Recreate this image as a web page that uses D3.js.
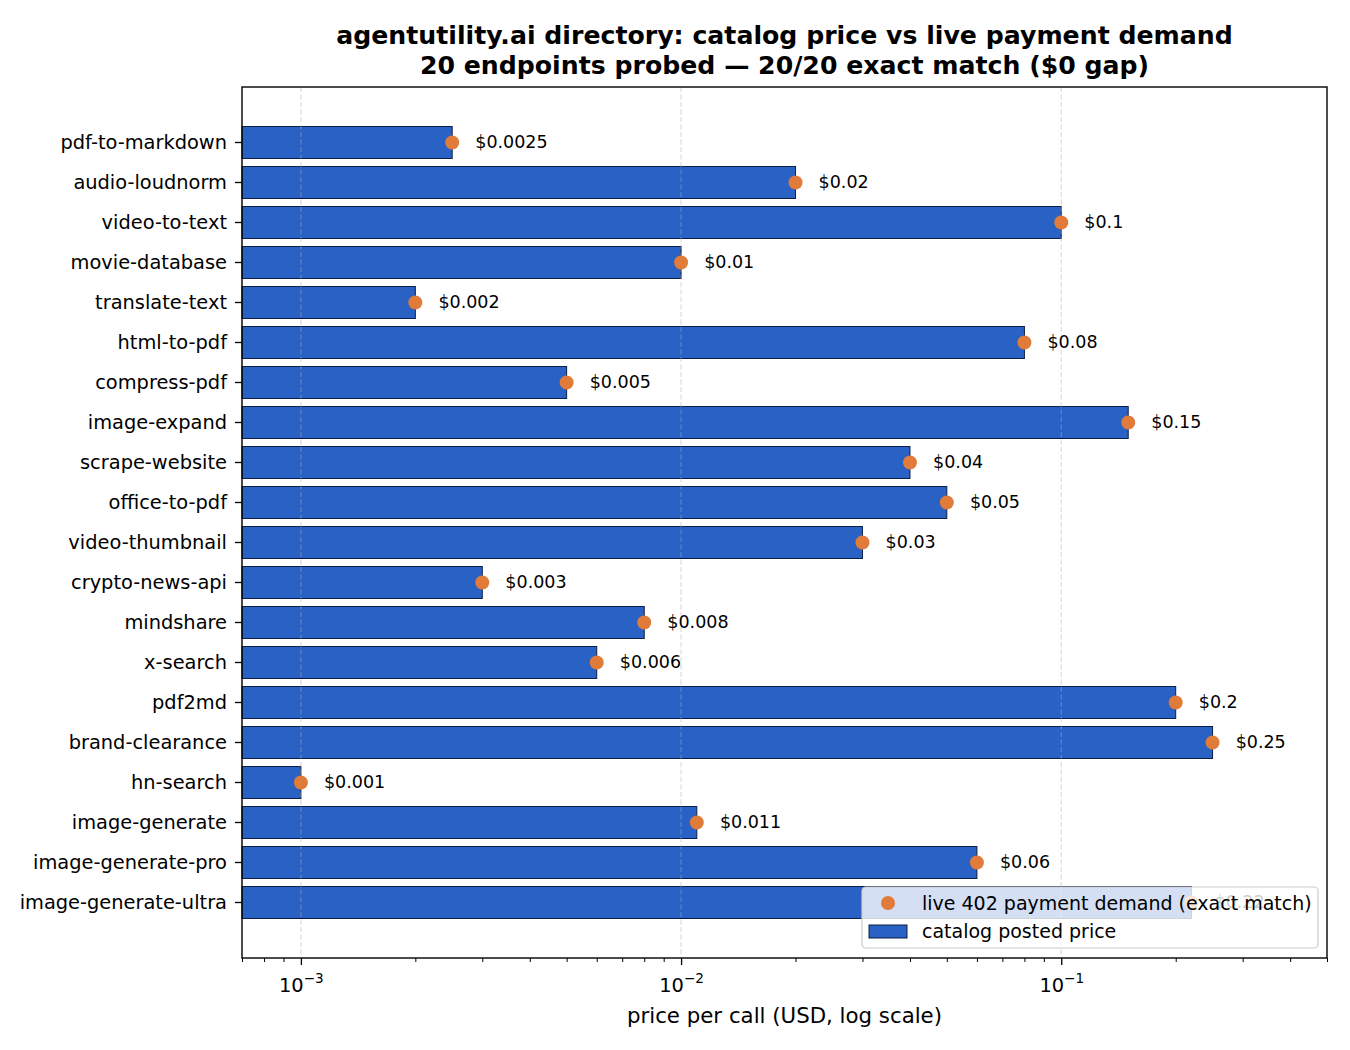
<!DOCTYPE html>
<html>
<head>
<meta charset="utf-8">
<script src="https://cdn.jsdelivr.net/npm/d3@7"></script>
<style>
  body { margin: 0; background: #fff; }
  text { font-family: "DejaVu Sans", sans-serif; fill: #000; }
</style>
</head>
<body>
<div id="chart"></div>
<script>
const endpoints = [
  "pdf-to-markdown", "audio-loudnorm", "video-to-text", "movie-database", "translate-text",
  "html-to-pdf", "compress-pdf", "image-expand", "scrape-website", "office-to-pdf",
  "video-thumbnail", "crypto-news-api", "mindshare", "x-search", "pdf2md",
  "brand-clearance", "hn-search", "image-generate", "image-generate-pro", "image-generate-ultra"
];
const catalogPrice = [
  0.0025, 0.02, 0.1, 0.01, 0.002,
  0.08, 0.005, 0.15, 0.04, 0.05,
  0.03, 0.003, 0.008, 0.006, 0.2,
  0.25, 0.001, 0.011, 0.06, 0.22
];
const liveDemand = [
  0.0025, 0.02, 0.1, 0.01, 0.002,
  0.08, 0.005, 0.15, 0.04, 0.05,
  0.03, 0.003, 0.008, 0.006, 0.2,
  0.25, 0.001, 0.011, 0.06, 0.22
];
const xDomain = [0.0007, 0.5];
const majorTicks = [0.001, 0.01, 0.1];
const majorTickExp = ["3", "2", "1"];

const W = 1350, H = 1050;
const margin = { top: 87, right: 23, bottom: 92, left: 242 };
const width = W - margin.left - margin.right;
const height = H - margin.top - margin.bottom;

const barColor = "#2961c5";
const barEdge = "#0d1f45";
const dotColor = "#e07b39";
const fs = 19.4;      // tick labels
const fsLegend = 19;
const fsLabel = 21.3; // axis label
const fsSmall = 17.5; // value labels
const fsTitle = 25.2;

const svg = d3.select("#chart").append("svg")
  .attr("width", W).attr("height", H);

// Title
svg.append("text")
  .attr("x", margin.left + width / 2).attr("y", 44)
  .attr("text-anchor", "middle")
  .style("font-size", fsTitle + "px").style("font-weight", "bold")
  .text("agentutility.ai directory: catalog price vs live payment demand");
svg.append("text")
  .attr("x", margin.left + width / 2).attr("y", 74)
  .attr("text-anchor", "middle")
  .style("font-size", fsTitle + "px").style("font-weight", "bold")
  .text("20 endpoints probed \u2014 20/20 exact match ($0 gap)");

const g = svg.append("g").attr("transform", `translate(${margin.left},${margin.top})`);

// Scales
const x = d3.scaleLog().domain(xDomain).range([0, width]);
const y = d3.scaleBand()
  .domain(endpoints)
  .range([0, height])
  .paddingInner(0.2)
  .paddingOuter(0.9875);

// Bars
g.selectAll(".bar")
  .data(endpoints)
  .enter().append("rect")
  .attr("class", "bar")
  .attr("x", 0)
  .attr("y", d => y(d))
  .attr("width", (d, i) => x(catalogPrice[i]))
  .attr("height", y.bandwidth())
  .attr("fill", barColor)
  .attr("stroke", barEdge)
  .attr("stroke-width", 1);

// Grid (drawn over bars, like matplotlib default)
g.selectAll(".grid")
  .data(majorTicks)
  .enter().append("line")
  .attr("class", "grid")
  .attr("x1", d => x(d)).attr("x2", d => x(d))
  .attr("y1", 0).attr("y2", height)
  .attr("stroke", "#b0b0b0")
  .attr("stroke-opacity", 0.45)
  .attr("stroke-width", 1.2)
  .attr("stroke-dasharray", "5,2.5");

// Dots
g.selectAll(".dot")
  .data(endpoints)
  .enter().append("circle")
  .attr("class", "dot")
  .attr("cx", (d, i) => x(liveDemand[i]))
  .attr("cy", d => y(d) + y.bandwidth() / 2)
  .attr("r", 7)
  .attr("fill", dotColor);

// Value labels
g.selectAll(".val")
  .data(endpoints)
  .enter().append("text")
  .attr("class", "val")
  .attr("x", (d, i) => x(liveDemand[i] * 1.15))
  .attr("y", d => y(d) + y.bandwidth() / 2)
  .attr("dy", "0.3em")
  .style("font-size", fsSmall + "px")
  .text((d, i) => "$" + String(liveDemand[i]));

// Y axis
const yAxis = g.append("g")
  .call(d3.axisLeft(y).tickSize(7).tickPadding(8))
  .call(a => a.select(".domain").remove());
yAxis.selectAll("line").attr("stroke", "#000").attr("stroke-width", 1.3);
yAxis.selectAll("text").style("font-size", fs + "px").style("font-family", "DejaVu Sans")
  .attr("dy", "0.36em");

// X axis: major ticks
const xAxis = g.append("g")
  .attr("transform", `translate(0,${height})`)
  .call(d3.axisBottom(x).tickValues(majorTicks).tickSize(7).tickPadding(6).tickFormat(""))
  .call(a => a.select(".domain").remove());
xAxis.selectAll("line").attr("stroke", "#000").attr("stroke-width", 1.3);

const majLabel = xAxis.selectAll(".tick").append("text")
  .attr("y", 34)
  .attr("text-anchor", "middle")
  .style("font-size", fs + "px");
majLabel.append("tspan").text("10");
majLabel.append("tspan")
  .attr("dy", -9)
  .style("font-size", "13.6px")
  .text((d, i) => "\u2212" + majorTickExp[i]);

// X axis: minor ticks
const minorTicks = x.ticks().filter(v => !majorTicks.some(m => Math.abs(m - v) / m < 1e-6));
const xMinor = g.append("g")
  .attr("transform", `translate(0,${height})`)
  .call(d3.axisBottom(x).tickValues(minorTicks).tickSize(4).tickFormat(""))
  .call(a => a.select(".domain").remove());
xMinor.selectAll("line").attr("stroke", "#000").attr("stroke-width", 1);

// X label
svg.append("text")
  .attr("x", margin.left + width / 2).attr("y", 1023)
  .attr("text-anchor", "middle")
  .style("font-size", fsLabel + "px")
  .text("price per call (USD, log scale)");

// Frame
g.append("rect")
  .attr("width", width).attr("height", height)
  .attr("fill", "none").attr("stroke", "#000").attr("stroke-width", 1.4);

// Legend
const legend = g.append("g").attr("transform", `translate(${862 - margin.left},${887 - margin.top})`);
legend.append("rect")
  .attr("width", 456).attr("height", 61)
  .attr("rx", 4)
  .attr("fill", "#fff").attr("fill-opacity", 0.8)
  .attr("stroke", "#cccccc").attr("stroke-width", 1.2);
legend.append("circle")
  .attr("cx", 26).attr("cy", 16).attr("r", 7).attr("fill", dotColor);
legend.append("text")
  .attr("x", 60).attr("y", 16).attr("dy", "0.35em")
  .style("font-size", fsLegend + "px")
  .text("live 402 payment demand (exact match)");
legend.append("rect")
  .attr("x", 7).attr("y", 38).attr("width", 38).attr("height", 13)
  .attr("fill", barColor).attr("stroke", barEdge).attr("stroke-width", 1);
legend.append("text")
  .attr("x", 60).attr("y", 44).attr("dy", "0.35em")
  .style("font-size", fsLegend + "px")
  .text("catalog posted price");
</script>
</body>
</html>
